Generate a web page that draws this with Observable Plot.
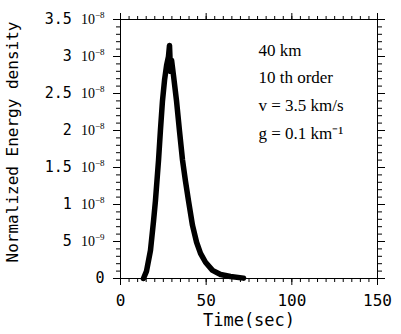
<!DOCTYPE html>
<html><head><meta charset="utf-8">
<script src="https://cdn.jsdelivr.net/npm/d3@7"></script>
<script src="https://cdn.jsdelivr.net/npm/@observablehq/plot@0.6"></script>
<style>body{margin:0;background:#fff}</style>
</head><body><div id="chart"></div>
<script>
// Energy envelope (units of 1e-8)
const time = [13.4, 15.2, 17.5, 19.3, 20.4, 22.2, 23.3, 24.5, 25.7, 26.9, 28.0, 28.6, 29.2, 29.8, 30.9, 32.7, 34.4, 36.2, 37.9, 39.7, 42.0, 44.4, 46.7, 49.6, 53.7, 58.4, 64.2, 71.8];
const energy = [0, 0.1, 0.38, 0.78, 1.05, 1.6, 2.0, 2.4, 2.68, 2.88, 3.0, 3.15, 2.8, 2.95, 2.75, 2.4, 2.0, 1.6, 1.32, 1.05, 0.72, 0.49, 0.34, 0.22, 0.11, 0.054, 0.027, 0.005];
const xTicks = [0, 50, 100, 150];
const yTicks = [0, 0.5, 1, 1.5, 2, 2.5, 3, 3.5];
const yTickLabels = ["0", "5 10^-9", "1 10^-8", "1.5 10^-8", "2 10^-8", "2.5 10^-8", "3 10^-8", "3.5 10^-8"];
const notes = ["40 km", "10 th order", "v = 3.5 km/s", "g = 0.1 km⁻¹"];
const noteY = [3.01, 2.64, 2.27, 1.89];
const noteX = 80.5;

const data = time.map((t, i) => ({t, e: energy[i]}));
const noteData = notes.map((s, i) => ({s, x: noteX, y: noteY[i]}));
const mono = "'DejaVu Sans Mono', 'Liberation Mono', monospace";
const minorX = d3.range(0, 151, 5);
const minorY = d3.range(0, 3.51, 0.1);

const plot = Plot.plot({
  width: 401, height: 334,
  marginLeft: 120, marginRight: 24, marginTop: 19, marginBottom: 56,
  style: {fontFamily: mono, fontSize: "16px", color: "#000", background: "#fff"},
  x: {domain: [0, 150]},
  y: {domain: [0, 3.5]},
  marks: [
    Plot.frame({stroke: "#000", strokeWidth: 1}),
    Plot.axisX(minorX, {anchor: "bottom", tickSize: 4, text: null, stroke: "#000", label: null}),
    Plot.axisX(xTicks, {anchor: "bottom", tickSize: 7, tickPadding: 9, fontSize: 16, stroke: "#000", label: null}),
    Plot.axisX(minorX, {anchor: "top", tickSize: 4, text: null, stroke: "#000", label: null}),
    Plot.axisX(xTicks, {anchor: "top", tickSize: 7, text: null, stroke: "#000", label: null}),
    Plot.axisY(minorY, {anchor: "left", tickSize: 4, text: null, stroke: "#000", label: null}),
    Plot.axisY(yTicks, {anchor: "left", tickSize: 7, tickPadding: 9, fontSize: 15, stroke: "#000", label: null,
      tickFormat: d => yTickLabels[yTicks.indexOf(d)]}),
    Plot.axisY(minorY, {anchor: "right", tickSize: 4, text: null, stroke: "#000", label: null}),
    Plot.axisY(yTicks, {anchor: "right", tickSize: 7, text: null, stroke: "#000", label: null}),
    Plot.line(data, {x: "t", y: "e", stroke: "#000", strokeWidth: 5.5, strokeLinejoin: "round"}),
    Plot.text(noteData, {x: "x", y: "y", text: "s", textAnchor: "start", lineAnchor: "bottom",
      fontFamily: "'Liberation Serif', 'Times New Roman', serif", fontSize: 17, fill: "#000"}),
    Plot.text(["Time(sec)"], {frameAnchor: "bottom", textAnchor: "middle", lineAnchor: "middle", dy: 42, fontSize: 17, fill: "#000"}),
    Plot.text(["Normalized Energy density"], {frameAnchor: "left", textAnchor: "middle", lineAnchor: "middle", dx: -108, dy: -7, rotate: -90, fontSize: 16, fill: "#000"})
  ]
});
document.getElementById("chart").appendChild(plot);

// render "a 10^-b" labels with a real superscript
const ns = "http://www.w3.org/2000/svg";
plot.querySelectorAll("text").forEach(t => {
  const m = /^(\S+) 10\^(-?\d+)$/.exec(t.textContent);
  if (!m) return;
  t.textContent = "";
  const a = document.createElementNS(ns, "tspan"); a.textContent = m[1] + " ";
  const b = document.createElementNS(ns, "tspan"); b.textContent = "10";
  b.setAttribute("font-family", "'Liberation Serif', serif"); b.setAttribute("font-size", "14");
  const c = document.createElementNS(ns, "tspan"); c.textContent = m[2].replace("-", "−");
  c.setAttribute("font-family", "'Liberation Serif', serif"); c.setAttribute("font-size", "9");
  c.setAttribute("dy", "-6");
  t.append(a, b, c);
});
</script></body></html>
